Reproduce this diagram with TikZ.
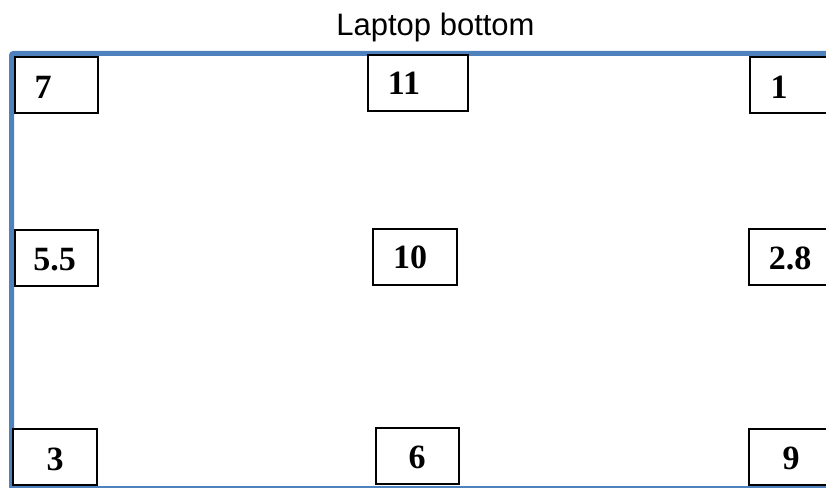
\documentclass[tikz,border=0pt]{standalone}
\usepackage{fontspec}
\setmainfont{Liberation Serif}
\newfontfamily\labelfont{Liberation Sans}
\usepackage{tikz}
\usetikzlibrary{calc,positioning}
\definecolor{caseblue}{HTML}{4F81BD}
\tikzset{
   casing/.style={draw=caseblue, line width=5pt, rounded corners=2pt},
   pad/.style={draw=black, fill=white, line width=1.2pt, minimum height=56pt, inner sep=0pt},
   padnum/.style={font=\fontsize{34}{40}\selectfont\bfseries, inner sep=0pt},
   heading/.style={font=\labelfont\fontsize{31}{36}\selectfont, inner sep=0pt}
}

\begin{document}
\begin{tikzpicture}[x=1pt,y=-1pt]
  \useasboundingbox (0,0) rectangle (826,487);
  \clip (0,0) rectangle (826,487);
  \node[heading, anchor=base] (title) at (435.5,36) {Laptop bottom};
  \draw[casing] (11.5,53.5) rectangle (840,488.5);
  % top row
  \node[pad, minimum width=83pt] (b7) at (56.5,85) {};
  \node[pad, minimum width=100pt] (b11) at (418,83) {};
  \node[pad, minimum width=83pt] (b1) at (791.5,85) {};
  \node[padnum] (n7) at (43,87) {7};
  \node[padnum] (n11) at (404,83) {11};
  \node[padnum] (n1) at (779,87) {1};
  % middle row
  \node[pad, minimum width=83pt] (b55) at (56.5,258) {};
  \node[pad, minimum width=84pt] (b10) at (415,257) {};
  \node[pad, minimum width=83pt] (b28) at (790.5,257) {};
  \node[padnum] (n55) at (54.5,260) {5.5};
  \node[padnum] (n10) at (410,257) {10};
  \node[padnum] (n28) at (790,258) {2.8};
  % bottom row
  \node[pad, minimum width=84pt] (b3) at (55,457) {};
  \node[pad, minimum width=83pt] (b6) at (417.5,456) {};
  \node[pad, minimum width=83pt] (b9) at (790.5,457) {};
  \node[padnum] (n3) at (55,459) {3};
  \node[padnum] (n6) at (417,457) {6};
  \node[padnum] (n9) at (791,458) {9};
\end{tikzpicture}
\end{document}
